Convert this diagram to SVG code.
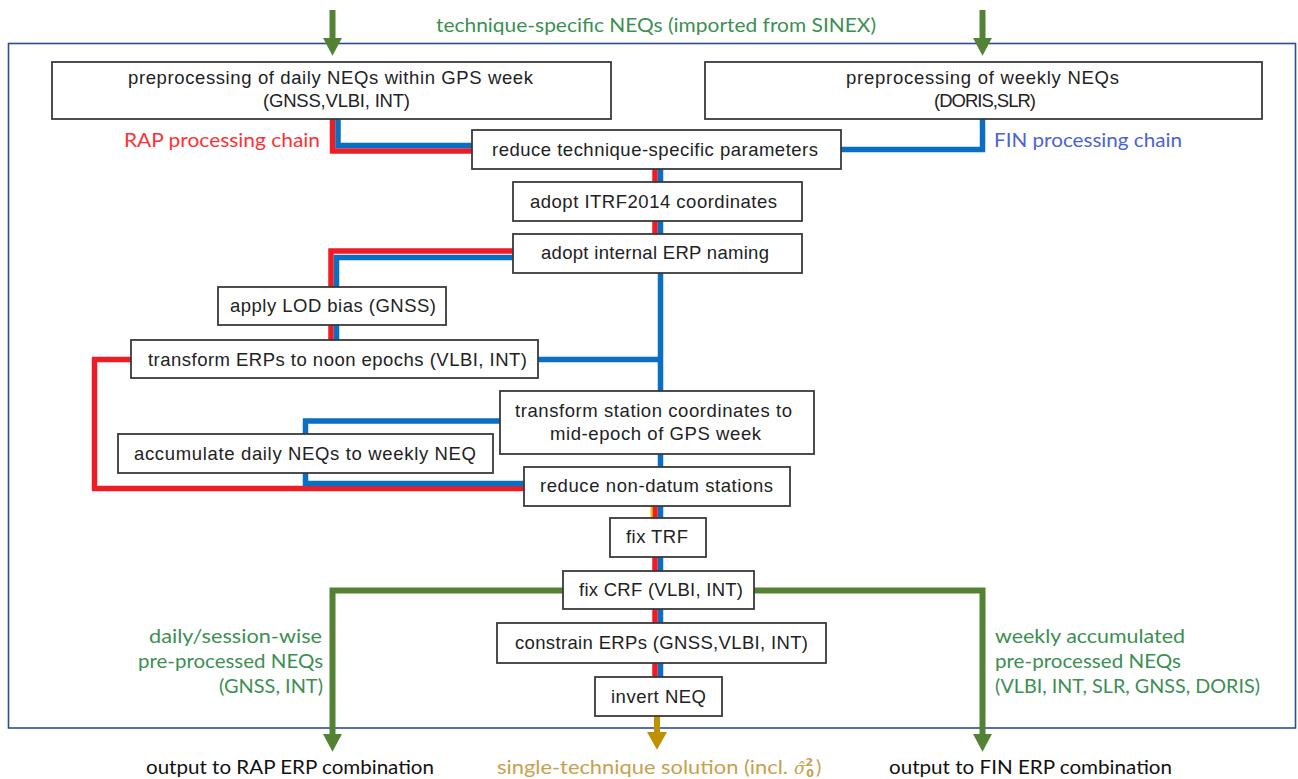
<svg xmlns="http://www.w3.org/2000/svg" width="1298" height="779" viewBox="0 0 1298 779">
<style>
.box{fill:#fff;stroke:#3a3a3a;stroke-width:1.8}
.bt{font-family:"Liberation Sans",Arial,sans-serif;font-size:18.5px;fill:#222}
.lb{font-family:Lato,"Open Sans","DejaVu Sans",sans-serif;font-size:20px}
.red{fill:none;stroke:#ee1c25;stroke-width:5.5}
.blue{fill:none;stroke:#0a6fc2;stroke-width:5.5}
.grn{fill:none;stroke:#548235;stroke-width:6}
.gold{fill:none;stroke:#bf9000;stroke-width:6}
.gt{fill:#3c8f52}
</style>
<defs>
<marker id="ag" markerUnits="userSpaceOnUse" orient="auto" refX="0" refY="0" markerWidth="20" markerHeight="20" viewBox="0 -9 17 18" overflow="visible"><polygon points="0,-8.5 16,0 0,8.5" fill="#548235"/></marker>
<marker id="au" markerUnits="userSpaceOnUse" orient="auto" refX="0" refY="0" markerWidth="20" markerHeight="20" viewBox="0 -9 17 18" overflow="visible"><polygon points="0,-9 16,0 0,9" fill="#bf9000"/></marker>
</defs>
<rect width="1298" height="779" fill="#fff"/>
<rect id="frame" x="8.5" y="43.5" width="1287" height="684.5" fill="none" stroke="#2e4d8f" stroke-width="1.6"/>

<g id="connectors">
<path class="grn" d="M332.5,10 V38" marker-end="url(#ag)"/>
<path class="grn" d="M982.5,10 V38" marker-end="url(#ag)"/>
<path class="red" d="M332.5,119 V151 H472"/>
<path class="blue" d="M338,119 V145.5 H472"/>
<path class="blue" d="M982.5,119 V149.5 H841"/>
<path class="red" d="M655,169 V234"/>
<path class="blue" d="M660.5,169 V677"/>
<path class="red" d="M513,251 H331 V340"/>
<path class="blue" d="M513,257.5 H336.5 V340"/>
<path class="blue" d="M538,359.5 H660.5"/>
<path class="red" d="M131,359.5 H94.5 V488.5 H524"/>
<path class="blue" d="M500,421 H305.5 V483.5 H524"/>
<path class="red" d="M655,506 V677"/>
<path d="M651.5,506 V518" stroke="#f2c200" stroke-width="2" fill="none"/>
<path class="grn" d="M563,590.5 H332.5 V734" marker-end="url(#ag)"/>
<path class="grn" d="M754,590.5 H982.5 V734" marker-end="url(#ag)"/>
<path class="gold" d="M657,716 V732" marker-end="url(#au)"/>
</g>

<g id="b1"><rect class="box" x="52" y="62" width="559" height="57"/>
<text class="bt" x="128" y="84" textLength="405">preprocessing of daily NEQs within GPS week</text>
<text class="bt" x="263" y="107" textLength="147">(GNSS,VLBI, INT)</text></g>

<g id="b2"><rect class="box" x="705" y="62" width="557" height="57"/>
<text class="bt" x="846" y="84" textLength="273">preprocessing of weekly NEQs</text>
<text class="bt" x="934" y="107" textLength="102">(DORIS,SLR)</text></g>

<g id="b3"><rect class="box" x="472" y="130" width="369" height="39"/>
<text class="bt" x="492" y="156" textLength="326">reduce technique-specific parameters</text></g>

<g id="b4"><rect class="box" x="513" y="182" width="289" height="39"/>
<text class="bt" x="530" y="208" textLength="247">adopt ITRF2014 coordinates</text></g>

<g id="b5"><rect class="box" x="513" y="234" width="289" height="39"/>
<text class="bt" x="541" y="259" textLength="228">adopt internal ERP naming</text></g>

<g id="b6"><rect class="box" x="218" y="287" width="228" height="38"/>
<text class="bt" x="230" y="312" textLength="206">apply LOD bias (GNSS)</text></g>

<g id="b7"><rect class="box" x="131" y="340" width="407" height="38"/>
<text class="bt" x="148" y="366" textLength="379">transform ERPs to noon epochs (VLBI, INT)</text></g>

<g id="b8"><rect class="box" x="500" y="391" width="314" height="63"/>
<text class="bt" x="515" y="417" textLength="277">transform station coordinates to</text>
<text class="bt" x="550" y="440" textLength="211">mid-epoch of GPS week</text></g>

<g id="b9"><rect class="box" x="118" y="434" width="375" height="39"/>
<text class="bt" x="134" y="460" textLength="342">accumulate daily NEQs to weekly NEQ</text></g>

<g id="b10"><rect class="box" x="524" y="467" width="266" height="39"/>
<text class="bt" x="540" y="492" textLength="233">reduce non-datum stations</text></g>

<g id="b11"><rect class="box" x="610" y="518" width="96" height="39"/>
<text class="bt" x="626" y="543" textLength="62">fix TRF</text></g>

<g id="b12"><rect class="box" x="563" y="571" width="191" height="38"/>
<text class="bt" x="579" y="596" textLength="164">fix CRF (VLBI, INT)</text></g>

<g id="b13"><rect class="box" x="497" y="623" width="329" height="40"/>
<text class="bt" x="515" y="649" textLength="293">constrain ERPs (GNSS,VLBI, INT)</text></g>

<g id="b14"><rect class="box" x="595" y="677" width="127" height="39"/>
<text class="bt" x="611" y="703" textLength="95">invert NEQ</text></g>

<g id="labels">
<text class="lb gt" x="436" y="32" textLength="440" lengthAdjust="spacingAndGlyphs">technique-specific NEQs (imported from SINEX)</text>
<text class="lb" x="124" y="147" fill="#ff3035" textLength="196" lengthAdjust="spacingAndGlyphs">RAP processing chain</text>
<text class="lb" x="994" y="147" fill="#4a62d8" textLength="188" lengthAdjust="spacingAndGlyphs">FIN processing chain</text>
<text class="lb gt" x="149" y="643" textLength="173" lengthAdjust="spacingAndGlyphs">daily/session-wise</text>
<text class="lb gt" x="138" y="668" textLength="185" lengthAdjust="spacingAndGlyphs">pre-processed NEQs</text>
<text class="lb gt" x="219" y="693" textLength="104" lengthAdjust="spacingAndGlyphs">(GNSS, INT)</text>
<text class="lb gt" x="995" y="643" textLength="190" lengthAdjust="spacingAndGlyphs">weekly accumulated</text>
<text class="lb gt" x="995" y="668" textLength="186" lengthAdjust="spacingAndGlyphs">pre-processed NEQs</text>
<text class="lb gt" x="995" y="693" textLength="265" lengthAdjust="spacingAndGlyphs">(VLBI, INT, SLR, GNSS, DORIS)</text>
<text class="lb" x="146" y="774" fill="#111" textLength="288" lengthAdjust="spacingAndGlyphs">output to RAP ERP combination</text>
<text class="lb" x="889" y="774" fill="#111" textLength="283" lengthAdjust="spacingAndGlyphs">output to FIN ERP combination</text>
<text class="lb" x="497" y="774" fill="#c9a04c" textLength="291" lengthAdjust="spacingAndGlyphs">single-technique solution (incl.</text>
<text class="lb" x="794" y="774" fill="#c9a04c"><tspan font-style="italic" font-family="'DejaVu Serif',serif" font-size="17">σ̂</tspan><tspan font-size="11" dy="-8" font-family="'DejaVu Sans',sans-serif" font-weight="bold">2</tspan><tspan font-size="11" dx="-7" dy="11" font-family="'DejaVu Sans',sans-serif" font-weight="bold">0</tspan><tspan dx="2" dy="-3">)</tspan></text>
</g>
</svg>
